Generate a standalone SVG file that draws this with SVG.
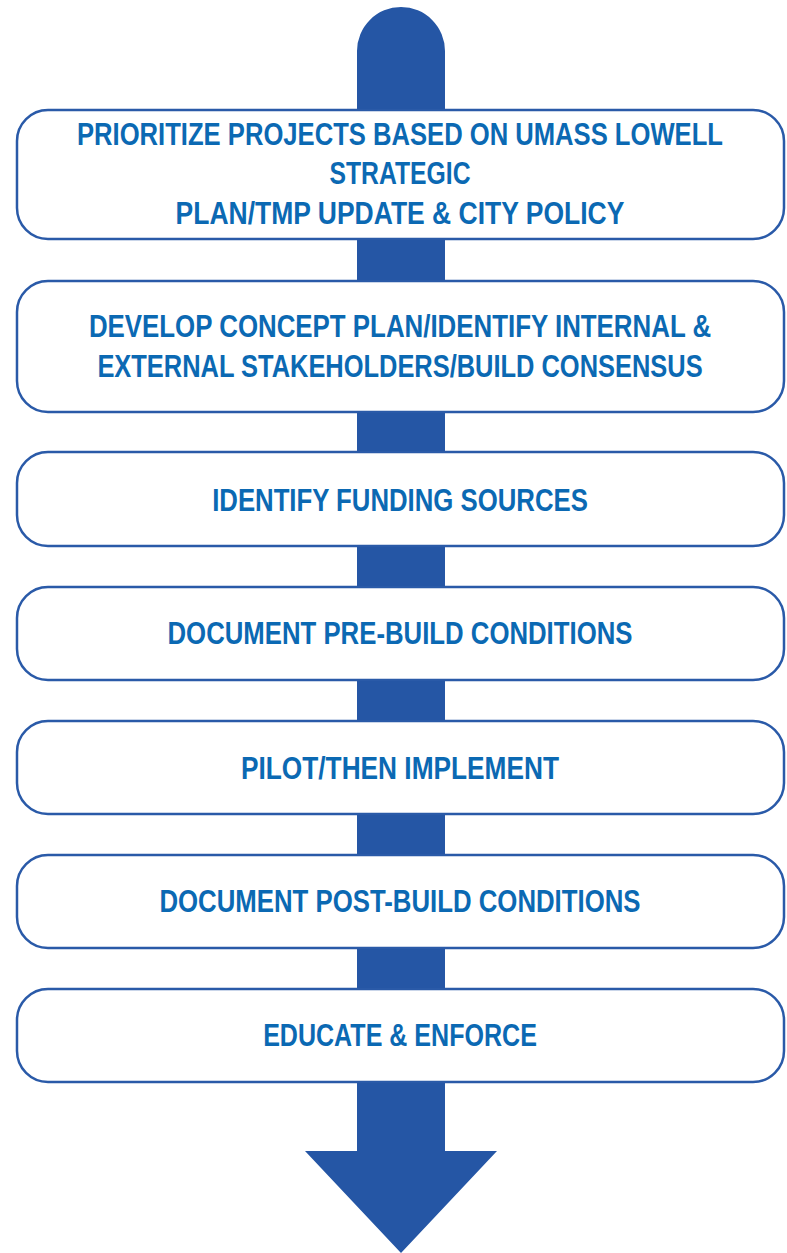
<svg xmlns="http://www.w3.org/2000/svg" width="787" height="1253" viewBox="0 0 787 1253">
  <style>
    .box { fill: #ffffff; stroke: #2a5aa8; stroke-width: 2.5; }
    .lbl { font-family: "Liberation Sans", Arial, sans-serif; font-weight: bold; font-size: 31px; fill: #0b69b3; text-anchor: middle; }
  </style>
  <g id="connectors">
    <path id="flow-arrow" d="M357,1151 V51 A44,44 0 0 1 445,51 V1151 H497 L401,1253 L305,1151 Z" fill="#2556a5"/>
  </g>
  <g id="node1">
    <rect class="box" x="17" y="110" width="767" height="129" rx="31" ry="31"/>
    <text class="lbl" transform="matrix(0.85 0 0 1 60 0)" x="400" y="145" textLength="760" lengthAdjust="spacingAndGlyphs">PRIORITIZE PROJECTS BASED ON UMASS LOWELL</text>
    <text class="lbl" transform="matrix(0.85 0 0 1 60 0)" x="400" y="184.5" textLength="166" lengthAdjust="spacingAndGlyphs">STRATEGIC</text>
    <text class="lbl" transform="matrix(0.85 0 0 1 60 0)" x="400" y="224" textLength="528" lengthAdjust="spacingAndGlyphs">PLAN/TMP UPDATE &amp; CITY POLICY</text>
  </g>
  <g id="node2">
    <rect class="box" x="17" y="281" width="767" height="131" rx="31" ry="31"/>
    <text class="lbl" transform="matrix(0.85 0 0 1 60 0)" x="400" y="337.5" textLength="732" lengthAdjust="spacingAndGlyphs">DEVELOP CONCEPT PLAN/IDENTIFY INTERNAL &amp;</text>
    <text class="lbl" transform="matrix(0.85 0 0 1 60 0)" x="400" y="377.5" textLength="712" lengthAdjust="spacingAndGlyphs">EXTERNAL STAKEHOLDERS/BUILD CONSENSUS</text>
  </g>
  <g id="node3">
    <rect class="box" x="17" y="452" width="767" height="94" rx="31" ry="31"/>
    <text class="lbl" transform="matrix(0.85 0 0 1 60 0)" x="400" y="511" textLength="442" lengthAdjust="spacingAndGlyphs">IDENTIFY FUNDING SOURCES</text>
  </g>
  <g id="node4">
    <rect class="box" x="17" y="587" width="767" height="93" rx="31" ry="31"/>
    <text class="lbl" transform="matrix(0.85 0 0 1 60 0)" x="400" y="644.5" textLength="547" lengthAdjust="spacingAndGlyphs">DOCUMENT PRE-BUILD CONDITIONS</text>
  </g>
  <g id="node5">
    <rect class="box" x="17" y="721" width="767" height="93" rx="31" ry="31"/>
    <text class="lbl" transform="matrix(0.85 0 0 1 60 0)" x="400" y="779" textLength="374" lengthAdjust="spacingAndGlyphs">PILOT/THEN IMPLEMENT</text>
  </g>
  <g id="node6">
    <rect class="box" x="17" y="855" width="767" height="93" rx="31" ry="31"/>
    <text class="lbl" transform="matrix(0.85 0 0 1 60 0)" x="400" y="912.5" textLength="566" lengthAdjust="spacingAndGlyphs">DOCUMENT POST-BUILD CONDITIONS</text>
  </g>
  <g id="node7">
    <rect class="box" x="17" y="989" width="767" height="93" rx="31" ry="31"/>
    <text class="lbl" transform="matrix(0.85 0 0 1 60 0)" x="400" y="1046.5" textLength="322" lengthAdjust="spacingAndGlyphs">EDUCATE &amp; ENFORCE</text>
  </g>
</svg>
